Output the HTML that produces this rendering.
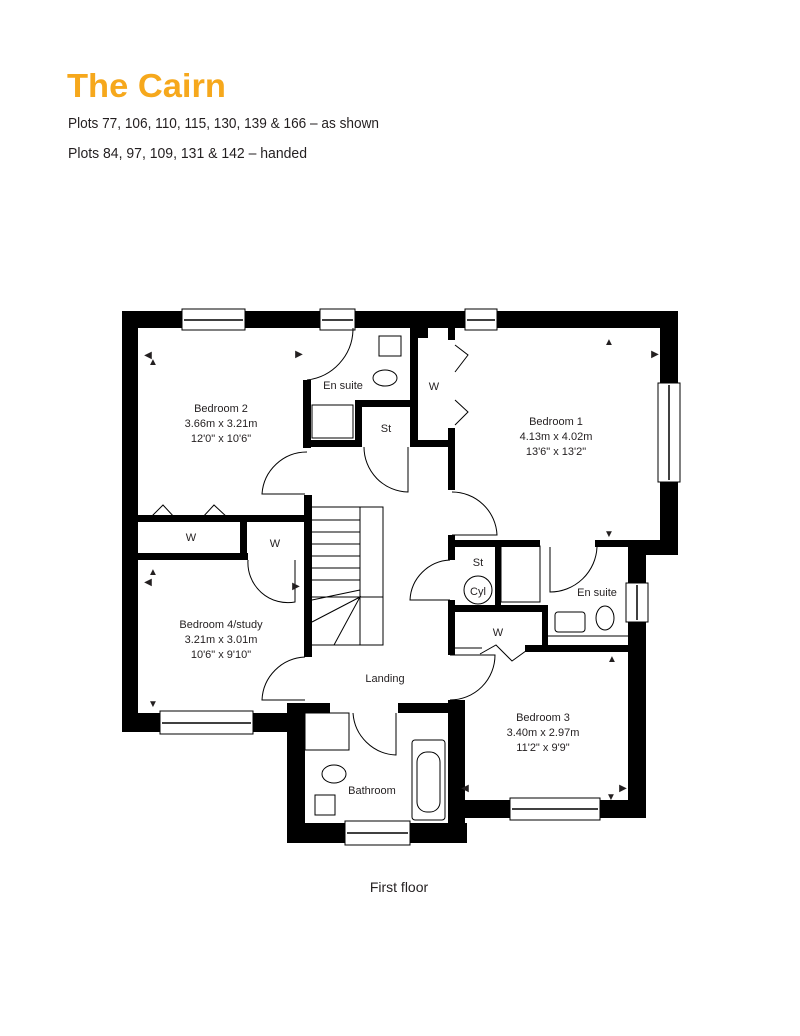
<!DOCTYPE html>
<html><head><meta charset="utf-8"><style>
html,body{margin:0;padding:0;background:#fff;}
svg{display:block;}
text{font-family:"Liberation Sans",sans-serif;fill:#231f20;}
</style></head><body>
<svg width="800" height="1036" viewBox="0 0 800 1036" xmlns="http://www.w3.org/2000/svg">
<text x="67" y="97" font-size="33" font-weight="bold" style="fill:#f6a81c" textLength="159" lengthAdjust="spacingAndGlyphs">The Cairn</text>
<text x="68" y="128" font-size="15" textLength="311" lengthAdjust="spacingAndGlyphs">Plots 77, 106, 110, 115, 130, 139 &amp; 166 – as shown</text>
<text x="68" y="158" font-size="15" textLength="239" lengthAdjust="spacingAndGlyphs">Plots 84, 97, 109, 131 &amp; 142 – handed</text>

<g fill="#000">
<rect x="122" y="311" width="16" height="421"/>
<rect x="122" y="311" width="556" height="17"/>
<rect x="660" y="311" width="18" height="244"/>
<rect x="628" y="540" width="50" height="15"/>
<rect x="628" y="540" width="18" height="278"/>
<rect x="448" y="800" width="198" height="18"/>
<rect x="122" y="713" width="183" height="19"/>
<rect x="287" y="703" width="18" height="140"/>
<rect x="287" y="823" width="180" height="20"/>
<rect x="448" y="700" width="17" height="143"/>
<rect x="300" y="703" width="30" height="10"/>
<rect x="398" y="703" width="57" height="10"/>
<rect x="303" y="380" width="8" height="68"/>
<rect x="303" y="440" width="59" height="7"/>
<rect x="355" y="400" width="62" height="7"/>
<rect x="355" y="400" width="7" height="47"/>
<rect x="410" y="328" width="8" height="119"/>
<rect x="410" y="440" width="45" height="7"/>
<rect x="418" y="328" width="10" height="10"/>
<rect x="448" y="328" width="7" height="12"/>
<rect x="448" y="428" width="7" height="62"/>
<rect x="448" y="535" width="7" height="25"/>
<rect x="448" y="540" width="92" height="7"/>
<rect x="595" y="540" width="35" height="7"/>
<rect x="304" y="495" width="8" height="162"/>
<rect x="138" y="515" width="167" height="7"/>
<rect x="138" y="553" width="110" height="7"/>
<rect x="240" y="515" width="7" height="45"/>
<rect x="448" y="600" width="7" height="55"/>
<rect x="495" y="540" width="6" height="72"/>
<rect x="448" y="605" width="100" height="7"/>
<rect x="542" y="605" width="6" height="47"/>
<rect x="525" y="645" width="105" height="7"/>
</g>
<g fill="#fff" stroke="#000" stroke-width="1">
<rect x="182" y="309" width="63" height="21"/>
<rect x="320" y="309" width="35" height="21"/>
<rect x="465" y="309" width="32" height="21"/>
<rect x="658" y="383" width="22" height="99"/>
<rect x="626" y="583" width="22" height="39"/>
<rect x="160" y="711" width="93" height="23"/>
<rect x="510" y="798" width="90" height="22"/>
<rect x="345" y="821" width="65" height="24"/>
</g>
<g stroke="#000" stroke-width="1.5">
<line x1="184" y1="320" x2="243" y2="320"/>
<line x1="322" y1="320" x2="353" y2="320"/>
<line x1="467" y1="320" x2="495" y2="320"/>
<line x1="669" y1="385" x2="669" y2="480"/>
<line x1="637" y1="585" x2="637" y2="620"/>
<line x1="162" y1="723" x2="251" y2="723"/>
<line x1="512" y1="809" x2="598" y2="809"/>
<line x1="347" y1="833" x2="408" y2="833"/>
</g>
<g fill="none" stroke="#000" stroke-width="1">
<path d="M307 380 A52 52 0 0 0 353 330 L353 328"/>
<path d="M307 452 A45 45 0 0 0 262 494 L305 494"/>
<path d="M364 447 A45 45 0 0 0 408 492 L408 447"/>
<path d="M452 492 A45 45 0 0 1 497 535 L452 535"/>
<path d="M597 547 A47 47 0 0 1 550 592 L550 547"/>
<path d="M450 560 A42 42 0 0 0 410 600 L450 600"/>
<path d="M248 560 A40 40 0 0 0 295 602 L295 560"/>
<path d="M305 657 A45 45 0 0 0 262 700 L305 700"/>
<path d="M450 700 A45 45 0 0 0 495 655 L450 655"/>
<path d="M353 713 A45 45 0 0 0 396 755 L396 713"/>
<path d="M452 648 L482 648 M480 654 L496 645 L512 661 L530 648"/>
<path d="M455 345 L468 355 L455 372 M455 400 L468 412 L455 425"/>
<path d="M150 518 L163 505 L175 518 M202 518 L214 505 L228 518"/>
<path d="M312 507 H383 V645 H312 M360 507 V645 M312 520 H360 M312 532 H360 M312 544 H360 M312 556 H360 M312 568 H360 M312 580 H360 M312 597 H383 M312 622 L360 597 L334 645 M312 600 L360 590"/>
<rect x="312" y="405" width="41" height="33"/>
<rect x="305" y="713" width="44" height="37"/>
<rect x="501" y="546" width="39" height="56"/>
<rect x="412" y="740" width="33" height="80" rx="3"/>
<rect x="417" y="752" width="23" height="60" rx="10"/>
<rect x="379" y="336" width="22" height="20"/>
<rect x="555" y="612" width="30" height="20" rx="3"/>
<rect x="315" y="795" width="20" height="20"/>
<ellipse cx="385" cy="378" rx="12" ry="8"/>
<ellipse cx="334" cy="774" rx="12" ry="9"/>
<ellipse cx="605" cy="618" rx="9" ry="12"/>
<circle cx="478" cy="590" r="14"/>
<path d="M546 636 H628 M414 330 V400"/>
</g>
<g font-size="11" text-anchor="middle">
<text x="343" y="389">En suite</text>
<text x="221" y="412">Bedroom 2</text>
<text x="221" y="427">3.66m x 3.21m</text>
<text x="221" y="442">12'0" x 10'6"</text>
<text x="386" y="432">St</text>
<text x="434" y="390">W</text>
<text x="556" y="425">Bedroom 1</text>
<text x="556" y="440">4.13m x 4.02m</text>
<text x="556" y="455">13'6" x 13'2"</text>
<text x="191" y="541">W</text>
<text x="275" y="547">W</text>
<text x="478" y="566">St</text>
<text x="478" y="595">Cyl</text>
<text x="597" y="596">En suite</text>
<text x="498" y="636">W</text>
<text x="221" y="628">Bedroom 4/study</text>
<text x="221" y="643">3.21m x 3.01m</text>
<text x="221" y="658">10'6" x 9'10"</text>
<text x="385" y="682">Landing</text>
<text x="543" y="721">Bedroom 3</text>
<text x="543" y="736">3.40m x 2.97m</text>
<text x="543" y="751">11'2" x 9'9"</text>
<text x="372" y="794">Bathroom</text>
<text x="399" y="892" font-size="14">First floor</text>
</g>
<g font-size="10" text-anchor="middle">
<text x="153" y="365">▲</text><text x="148" y="358">◀</text><text x="299" y="357">▶</text>
<text x="609" y="345">▲</text><text x="655" y="357">▶</text><text x="609" y="537">▼</text>
<text x="153" y="575">▲</text><text x="148" y="585">◀</text><text x="296" y="589">▶</text><text x="153" y="707">▼</text>
<text x="612" y="662">▲</text><text x="465" y="791">◀</text><text x="623" y="791">▶</text><text x="611" y="800">▼</text>
</g>
</svg>
</body></html>
